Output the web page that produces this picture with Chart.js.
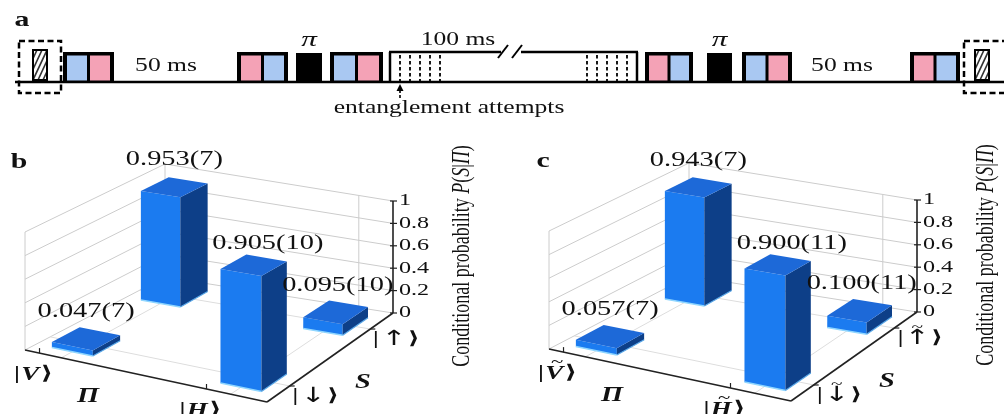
<!DOCTYPE html>
<html>
<head>
<meta charset="utf-8">
<script src="https://cdn.jsdelivr.net/npm/chart.js@4.4.1/dist/chart.umd.min.js"></script>
<style>
    html, body { margin: 0; padding: 0; background: #fff; overflow: hidden; }
    #wrap { position: relative; width: 1004px; height: 414px; }
</style>
</head>
<body>
<div id="wrap"><canvas id="fig" width="1004" height="414"></canvas></div>
<script>
// ---- data ----
const piStates = ['V', 'H'];
const sStates = ['\u2193', '\u2191'];
const zTicks = [0, 0.2, 0.4, 0.6, 0.8, 1];
// P(S|PI): rows follow piStates, columns follow sStates
const probB = [[0.047, 0.953], [0.905, 0.095]];
const errB = [[7, 7], [10, 10]];
const probC = [[0.057, 0.943], [0.900, 0.100]];
const errC = [[7, 7], [11, 11]];

// pulse sequence (panel a), on the figure's horizontal axis
const seqStart = [19, 63, 237, 296, 330, 390, 645, 707, 742, 910, 964];
const seqEnd = [61, 114, 288, 322, 383, 637, 693, 732, 792, 960, 1006];
const seqKind = ['reset', 'bp', 'pb', 'pi', 'bp', 'attempts', 'pb', 'pi', 'bp', 'pb', 'reset'];

// ---- look ----
const SX = 1.42; // the source figure is stretched horizontally
const SERIF = '"Liberation Serif", "DejaVu Serif", serif';
const BLUE = '#a9c8f2';
const PINK = '#f4a2b6';
const GRID = '#cccccc';

// floor of the 3d plots: front-left, front-right, back-right, back-left
const floorX = [25, 267, 393, 165];
const floorY = [350, 402, 313, 277];
const zScale = [118, 130, 112, 113];
const uPos = [0.15, 0.85];
const vPos = [0.18, 0.82];
const uTick = [0.06, 0.75];
const du = 0.085, dv = 0.1;
// nudges of the value labels, [Pi][S], in pixels
const labelNudge = [[[0, 0], [0, 0]], [[14, 6], [2, 0]]];

function bil(q, u, v) {
    return (1 - u) * (1 - v) * q[0] + u * (1 - v) * q[1] + u * v * q[2] + (1 - u) * v * q[3];
}

function txt(ctx, X, Y, s, x, y, font, align, color) {
    ctx.save();
    ctx.font = font;
    ctx.fillStyle = color || '#111';
    ctx.textBaseline = 'middle';
    ctx.textAlign = align || 'center';
    ctx.translate(X(x), Y(y));
    ctx.scale(SX, 1);
    ctx.fillText(s, 0, 0);
    ctx.restore();
}

function poly(ctx, pts, fill) {
    ctx.beginPath();
    pts.forEach((p, i) => i ? ctx.lineTo(p[0], p[1]) : ctx.moveTo(p[0], p[1]));
    ctx.closePath();
    ctx.fillStyle = fill;
    ctx.fill();
}

function seg(ctx, a, b, color, w) {
    ctx.beginPath();
    ctx.moveTo(a[0], a[1]);
    ctx.lineTo(b[0], b[1]);
    ctx.strokeStyle = color;
    ctx.lineWidth = w;
    ctx.stroke();
}

// state label like |V> with optional tilde on the symbol
function stateLabel(ctx, X, Y, sym, x, y, tilde, size) {
    const isArrow = sym === '\u2193' || sym === '\u2191';
    const fBar = 'bold ' + size + 'px ' + SERIF;
    const fSym = isArrow ? (size + 3) + 'px "DejaVu Sans"' : 'bold italic ' + size + 'px ' + SERIF;
    ctx.save();
    ctx.translate(X(x), Y(y));
    ctx.scale(SX, 1);
    ctx.textBaseline = 'middle';
    ctx.textAlign = 'left';
    ctx.fillStyle = '#111';
    ctx.font = fBar;
    const w1 = ctx.measureText('|').width + (isArrow && !tilde ? 2 : 1);
    const w3 = ctx.measureText('\u27e9').width;
    ctx.font = fSym;
    const w2 = ctx.measureText(sym).width;
    const x0 = -(w1 + w2 + w3 + 1) / 2;
    ctx.font = fBar;
    ctx.fillText('|', x0, 0);
    ctx.font = fSym;
    ctx.fillText(sym, x0 + w1, 1);
    if (tilde) {
        ctx.font = (size - 3) + 'px ' + SERIF;
        ctx.textAlign = 'center';
        ctx.fillText('~', x0 + w1 + w2 / 2 + (isArrow ? 0 : 2), -size * 0.55);
        ctx.textAlign = 'left';
    }
    ctx.font = fBar;
    ctx.fillText('\u27e9', x0 + w1 + w2 + 1, 0);
    ctx.restore();
}

function drawSequence(ctx, X, Y) {
    const top = 52, base = 82;
    ctx.save();
    seg(ctx, [X(15), Y(base)], [X(1004), Y(base)], '#000', 2.5);
    for (let i = 0; i < seqKind.length; i++) {
        const s = seqStart[i], e = seqEnd[i], kind = seqKind[i];
        if (kind === 'bp' || kind === 'pb') {
            const cols = kind === 'bp' ? [BLUE, PINK] : [PINK, BLUE];
            const mid = (s + e) / 2;
            ctx.fillStyle = '#000';
            ctx.fillRect(X(s), Y(top), X(e) - X(s), Y(base) - Y(top));
            ctx.fillStyle = cols[0];
            ctx.fillRect(X(s + 4), Y(top + 3.5), X(mid - 1.5) - X(s + 4), Y(base - 1.5) - Y(top + 3.5));
            ctx.fillStyle = cols[1];
            ctx.fillRect(X(mid + 1.5), Y(top + 3.5), X(e - 4) - X(mid + 1.5), Y(base - 1.5) - Y(top + 3.5));
        } else if (kind === 'pi') {
            ctx.fillStyle = '#000';
            ctx.fillRect(X(s), Y(top + 1), X(e) - X(s), Y(base) - Y(top + 1));
            txt(ctx, X, Y, '\u03c0', (s + e) / 2, 40, 'italic 22px ' + SERIF);
        } else if (kind === 'attempts') {
            seg(ctx, [X(s), Y(top)], [X(s), Y(base)], '#000', 2.5);
            seg(ctx, [X(e), Y(top)], [X(e), Y(base)], '#000', 2.5);
            seg(ctx, [X(s - 1), Y(top)], [X(501), Y(top)], '#000', 2.5);
            seg(ctx, [X(521), Y(top)], [X(e + 1), Y(top)], '#000', 2.5);
            seg(ctx, [X(498), Y(58)], [X(508), Y(45)], '#000', 2);
            seg(ctx, [X(512), Y(58)], [X(522), Y(45)], '#000', 2);
            ctx.save();
            ctx.setLineDash([3.5, 2.5]);
            for (let k = 0; k < 5; k++) {
                seg(ctx, [X(s + 10 + k * 10), Y(top + 3)], [X(s + 10 + k * 10), Y(base)], '#000', 1.8);
                seg(ctx, [X(e - 50 + k * 10), Y(top + 3)], [X(e - 50 + k * 10), Y(base)], '#000', 1.8);
            }
            ctx.restore();
            txt(ctx, X, Y, '100 ms', 458, 40, '18px ' + SERIF);
        } else if (kind === 'reset') {
            ctx.save();
            ctx.setLineDash([6, 3.5]);
            ctx.lineWidth = 2.5;
            ctx.strokeStyle = '#000';
            ctx.strokeRect(X(s), Y(41), X(e) - X(s), Y(93) - Y(41));
            ctx.restore();
            const c = (s + Math.min(e, 1004)) / 2 + (e > 1004 ? -2 : 0);
            const hx = c - 7, hw = 14;
            ctx.save();
            ctx.beginPath();
            ctx.rect(X(hx), Y(50), X(hx + hw) - X(hx), Y(80) - Y(50));
            ctx.clip();
            for (let k = -40; k < 40; k += 5) {
                seg(ctx, [X(hx + k), Y(80)], [X(hx + k + 14), Y(50)], '#333', 1.6);
            }
            ctx.restore();
            ctx.lineWidth = 2;
            ctx.strokeStyle = '#000';
            ctx.strokeRect(X(hx), Y(50), X(hx + hw) - X(hx), Y(80) - Y(50));
        }
    }
    txt(ctx, X, Y, '50 ms', 166, 66, '18px ' + SERIF);
    txt(ctx, X, Y, '50 ms', 842, 66, '18px ' + SERIF);
    txt(ctx, X, Y, 'entanglement attempts', 449, 108, '18px ' + SERIF);
    txt(ctx, X, Y, 'a', 22, 21, 'bold 21px ' + SERIF);
    // arrow to the first attempt
    ctx.save();
    ctx.setLineDash([3, 2]);
    seg(ctx, [X(400), Y(98)], [X(400), Y(89)], '#000', 1.6);
    ctx.restore();
    poly(ctx, [[X(400), Y(84)], [X(396.5), Y(91)], [X(403.5), Y(91)]], '#000');
    ctx.restore();
}

function drawPanel(ctx, X, Y, cfg) {
    const F = (u, v, z) => [bil(floorX, u, v) + cfg.dx, bil(floorY, u, v) + cfg.dy - bil(zScale, u, v) * z];
    const P = (u, v, z) => { const f = F(u, v, z); return [X(f[0]), Y(f[1])]; };
    ctx.save();
    // left wall and back wall
    zTicks.forEach(z => {
        if (z > 0) seg(ctx, P(0, 0, z), P(0, 1, z), GRID, 1);
        seg(ctx, P(0, 1, z), P(1, 1, z), GRID, 1);
    });
    seg(ctx, P(0, 0, 0), P(0, 0, 1), GRID, 1);
    seg(ctx, P(0, 1, 0), P(0, 1, 1), GRID, 1);
    seg(ctx, P(uPos[1], 1, 0), P(uPos[1], 1, 1), GRID, 1);
    seg(ctx, P(0, 0, 0), P(0, 1, 0), GRID, 1);
    // floor grid
    uPos.forEach(u => seg(ctx, P(u, 0, 0), P(u, 1, 0), '#dddddd', 1));
    vPos.forEach(v => seg(ctx, P(0, v, 0), P(1, v, 0), '#dddddd', 1));
    // axes
    seg(ctx, P(0, 0, 0), P(1, 0, 0), '#222', 1.6);
    seg(ctx, P(1, 0, 0), P(1, 1, 0), '#222', 1.6);
    seg(ctx, P(1, 1, 0), P(1, 1, 1), '#222', 1.6);
    uTick.forEach(u => { const a = P(u, 0, 0); seg(ctx, a, [a[0], a[1] - 5], '#222', 1.2); });
    vPos.forEach(v => { const a = P(1, v, 0); seg(ctx, a, [a[0] + 5, a[1]], '#222', 1.2); });
    zTicks.forEach(z => {
        const a = P(1, 1, z);
        seg(ctx, [a[0] - 3, a[1]], [a[0] + 4, a[1]], '#222', 1.2);
        const f = F(1, 1, z);
        txt(ctx, X, Y, String(z), f[0] + 6, f[1], '17px ' + SERIF, 'left');
    });
    // bars, back to front
    const order = [];
    for (let i = 0; i < piStates.length; i++) {
        for (let j = 0; j < sStates.length; j++) order.push([i, j]);
    }
    order.sort((a, b) => (vPos[b[1]] - vPos[a[1]]) || (uPos[a[0]] - uPos[b[0]]));
    order.forEach(([i, j]) => {
        const u = uPos[i], v = vPos[j], z = cfg.prob[i][j];
        const A0 = P(u - du, v - dv, 0), B0 = P(u + du, v - dv, 0), C0 = P(u + du, v + dv, 0);
        const A1 = P(u - du, v - dv, z), B1 = P(u + du, v - dv, z), C1 = P(u + du, v + dv, z), D1 = P(u - du, v + dv, z);
        poly(ctx, [A0, B0, B1, A1], '#1b7bf0');
        poly(ctx, [B0, C0, C1, B1], '#0d3f88');
        poly(ctx, [A1, B1, C1, D1], '#1d69d8');
        seg(ctx, A0, B0, '#8fd6ff', 1.5);
        seg(ctx, B0, C0, '#5aa8e8', 1.2);
    });
    // value labels
    order.forEach(([i, j]) => {
        const z = cfg.prob[i][j];
        const f = F(uPos[i], vPos[j], z);
        const s = z.toFixed(3) + '(' + cfg.err[i][j] + ')';
        const n = labelNudge[i][j];
        txt(ctx, X, Y, s, f[0] + n[0], f[1] - 27 + n[1], '20px ' + SERIF);
    });
    // tick labels
    uTick.forEach((u, i) => {
        const f = F(u, 0, 0);
        stateLabel(ctx, X, Y, piStates[i], f[0] - 6, f[1] + 21, cfg.tilde, 19);
    });
    vPos.forEach((v, j) => {
        const f = F(1, v, 0);
        stateLabel(ctx, X, Y, sStates[j], f[0] + 26, f[1] + 10, cfg.tilde, 18);
    });
    const fp = F(0.5, 0, 0);
    txt(ctx, X, Y, '\u03a0', fp[0] - 58, fp[1] + 21, 'bold italic 20px ' + SERIF);
    const fs = F(1, 0.5, 0);
    txt(ctx, X, Y, 'S', fs[0] + 33, fs[1] + 25, 'bold italic 20px ' + SERIF);
    // panel letter
    txt(ctx, X, Y, cfg.letter, cfg.dx + 19, cfg.dy + 163, 'bold 21px ' + SERIF);
    // vertical axis title
    const ft = F(1, 1, 1);
    const parts = [['Conditional probability ', ''], ['P', 'italic '], ['(', ''], ['S', 'italic '], ['|', ''], ['\u03a0', 'italic '], [')', '']];
    ctx.save();
    ctx.translate(X(ft[0] + 69), Y(ft[1] + 55));
    ctx.scale(SX, 1);
    ctx.rotate(-Math.PI / 2);
    ctx.textBaseline = 'middle';
    ctx.textAlign = 'left';
    ctx.fillStyle = '#111';
    let total = 0;
    parts.forEach(p => { ctx.font = p[1] + '18px ' + SERIF; total += ctx.measureText(p[0]).width; });
    let xx = -total / 2;
    parts.forEach(p => {
        ctx.font = p[1] + '18px ' + SERIF;
        ctx.fillText(p[0], xx, 0);
        xx += ctx.measureText(p[0]).width;
    });
    ctx.restore();
    ctx.restore();
}

const figurePlugin = {
    id: 'figure',
    afterDraw: function (chart) {
        const ctx = chart.ctx;
        const xs = chart.scales.x, ys = chart.scales.y;
        const X = v => xs.getPixelForValue(v);
        const Y = v => ys.getPixelForValue(v);
        drawSequence(ctx, X, Y);
        drawPanel(ctx, X, Y, { dx: 0, dy: 0, letter: 'b', prob: probB, err: errB, tilde: false });
        drawPanel(ctx, X, Y, { dx: 524, dy: -1, letter: 'c', prob: probC, err: errC, tilde: true });
    }
};

new Chart(document.getElementById('fig'), {
    type: 'scatter',
    data: { datasets: [{ data: [] }] },
    options: {
        responsive: false,
        animation: false,
        devicePixelRatio: 1,
        layout: { padding: 0 },
        plugins: { legend: { display: false }, tooltip: { enabled: false } },
        scales: {
            x: { type: 'linear', min: 0, max: 1004, display: false },
            y: { type: 'linear', min: 0, max: 414, reverse: true, display: false }
        }
    },
    plugins: [figurePlugin]
});
</script>
</body>
</html>
